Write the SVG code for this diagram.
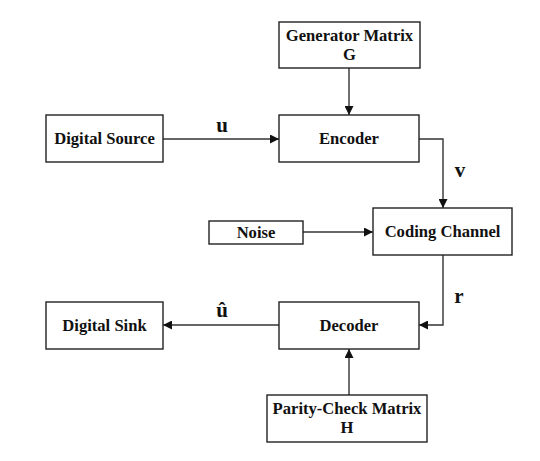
<svg xmlns="http://www.w3.org/2000/svg" width="540" height="461" viewBox="0 0 540 461">
<defs>
<style>
.box{fill:#fff;stroke:#222;stroke-width:1.4}
.t{font-family:"Liberation Serif","Times New Roman",serif;font-weight:bold;font-size:16.6px;fill:#111;text-anchor:middle}
.lbl{font-family:"Liberation Serif","Times New Roman",serif;font-weight:bold;font-size:21px;fill:#111;text-anchor:middle}
.ln{fill:none;stroke:#333;stroke-width:1.4}
</style>
<marker id="ah" viewBox="0 0 10 10" refX="10" refY="5" markerWidth="9" markerHeight="9" markerUnits="userSpaceOnUse" orient="auto">
<path d="M0,0 L10,5 L0,10 Z" fill="#111"/>
</marker>
</defs>
<rect width="540" height="461" fill="#fff"/>
<g id="connectors">
<path class="ln" d="M349,68 V115" marker-end="url(#ah)"/>
<path class="ln" d="M163,139 H279" marker-end="url(#ah)"/>
<path class="ln" d="M419,139 H443 V208" marker-end="url(#ah)"/>
<path class="ln" d="M303,232 H373" marker-end="url(#ah)"/>
<path class="ln" d="M443,255 V325 H419" marker-end="url(#ah)"/>
<path class="ln" d="M279,325 H163" marker-end="url(#ah)"/>
<path class="ln" d="M349,395 V349" marker-end="url(#ah)"/>
<text class="lbl" x="222" y="132">u</text>
<text class="lbl" x="460" y="177">v</text>
<text class="lbl" x="459" y="303">r</text>
<text class="lbl" x="222" y="317">û</text>
</g>
<g id="generator">
<rect class="box" x="279" y="22" width="141" height="46"/>
<text class="t" x="349.5" y="41">Generator Matrix</text>
<text class="t" x="349.5" y="60">G</text>
</g>
<g id="source">
<rect class="box" x="46" y="115" width="117" height="47"/>
<text class="t" x="104.5" y="144">Digital Source</text>
</g>
<g id="encoder">
<rect class="box" x="279" y="115" width="140" height="47"/>
<text class="t" x="349" y="144">Encoder</text>
</g>
<g id="noise">
<rect class="box" x="209" y="221" width="94" height="23"/>
<text class="t" x="256" y="238">Noise</text>
</g>
<g id="channel">
<rect class="box" x="373" y="208" width="139" height="47"/>
<text class="t" x="442.5" y="237">Coding Channel</text>
</g>
<g id="sink">
<rect class="box" x="46" y="302" width="117" height="47"/>
<text class="t" x="104.5" y="331">Digital Sink</text>
</g>
<g id="decoder">
<rect class="box" x="279" y="302" width="140" height="47"/>
<text class="t" x="349" y="331">Decoder</text>
</g>
<g id="paritycheck">
<rect class="box" x="267" y="395" width="160" height="47"/>
<text class="t" x="347" y="414">Parity-Check Matrix</text>
<text class="t" x="347" y="433">H</text>
</g>
</svg>
